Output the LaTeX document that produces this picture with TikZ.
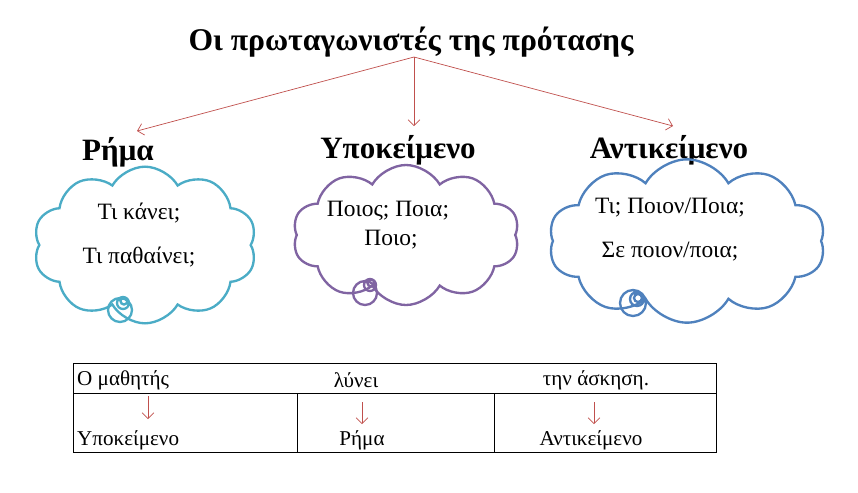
\documentclass[tikz,border=0pt]{standalone}
\usepackage{fontspec}
\setmainfont{Liberation Serif}
\usetikzlibrary{shapes.symbols,positioning,arrows.meta}
\definecolor{arrred}{HTML}{C0504D}
\definecolor{cloudteal}{HTML}{4BACC6}
\definecolor{cloudpurple}{HTML}{8064A2}
\definecolor{cloudblue}{HTML}{4F81BD}

\begin{document}
\begin{tikzpicture}
      [x=0.03cm,y=-0.03cm
      ,titl/.style={font=\fontsize{27}{32}\selectfont\bfseries}
      ,head/.style={font=\fontsize{26.5}{31}\selectfont\bfseries}
      ,txt/.style={font=\fontsize{20}{24}\selectfont}
      ,cell/.style={font=\fontsize{18}{22}\selectfont,inner sep=0pt}
      ,arr/.style={color=arrred,line width=.6pt,-{Straight Barb[length=5pt,width=10pt]}}
      ,cld/.style={cloud,cloud puffs=10,cloud puff arc=120,cloud ignores aspect,line width=2pt}
      ]
        \useasboundingbox (0,0) rectangle (858,492);
        % title and headings
        \node[titl] (title) at (411,42) {Οι πρωταγωνιστές της πρότασης};
        \coordinate (root) at (414,57);
        \node[head] (rima) at (118,152) {Ρήμα};
        \node[head] (ypok) at (398,150) {Υποκείμενο};
        \node[head] (antik) at (669,150) {Αντικείμενο};
        \coordinate (endl) at (137,131);
        \coordinate (endm) at (414,126);
        \coordinate (endr) at (673,126);
        \draw[arr] (root) -- (endl);
        \draw[arr] (root) -- (endm);
        \draw[arr] (root) -- (endr);
        % clouds
        \node[cld,draw=cloudteal,minimum width=6.7cm,minimum height=4.7cm] (cloudl) at (145,245) {};
        \node[cld,draw=cloudpurple,minimum width=6.8cm,minimum height=4.2cm] (cloudm) at (406,235) {};
        \node[cld,draw=cloudblue,minimum width=8.3cm,minimum height=4.9cm] (cloudr) at (687,241) {};
        \draw[cloudteal,line width=2pt] (120,310) circle [radius=12] (123,303) circle [radius=6] (124,301) circle [radius=3.5];
        \draw[cloudpurple,line width=2pt] (365,293) circle [radius=12] (370,285) circle [radius=6] (371,283) circle [radius=3.5];
        \draw[cloudblue,line width=2pt] (633,303) circle [radius=13] (637,299) circle [radius=7] (638,298) circle [radius=4];
        \node[txt] (kanei) at (139,213) {Τι κάνει;};
        \node[txt] (pathainei) at (139,257) {Τι παθαίνει;};
        \node[txt] (poios) at (388,211) {Ποιος; Ποια;};
        \node[txt] (poio) at (391,240) {Ποιο;};
        \node[txt] (ti) at (670,208) {Τι; Ποιον/Ποια;};
        \node[txt] (se) at (670,252) {Σε ποιον/ποια;};
        % table
        \draw[line width=.8pt] (73,363) rectangle (716,452);
        \draw[line width=.8pt] (73,393) -- (716,393);
        \draw[line width=.8pt] (297,393) -- (297,452) (494,393) -- (494,452);
        \node[cell,anchor=west] (mathitis) at (77,380) {Ο μαθητής};
        \node[cell] (lynei) at (356,380) {λύνει};
        \node[cell] (askisi) at (596,380) {την άσκηση.};
        \node[cell,anchor=west] (cellyp) at (77,440) {Υποκείμενο};
        \node[cell] (cellrim) at (362,440) {Ρήμα};
        \node[cell] (cellant) at (591,440) {Αντικείμενο};
        \coordinate (a1) at (148,396); \coordinate (b1) at (148,419);
        \coordinate (a2) at (362,402); \coordinate (b2) at (362,424);
        \coordinate (a3) at (594,402); \coordinate (b3) at (594,424);
        \draw[arr] (a1) -- (b1);
        \draw[arr] (a2) -- (b2);
        \draw[arr] (a3) -- (b3);
      \end{tikzpicture}
\end{document}
